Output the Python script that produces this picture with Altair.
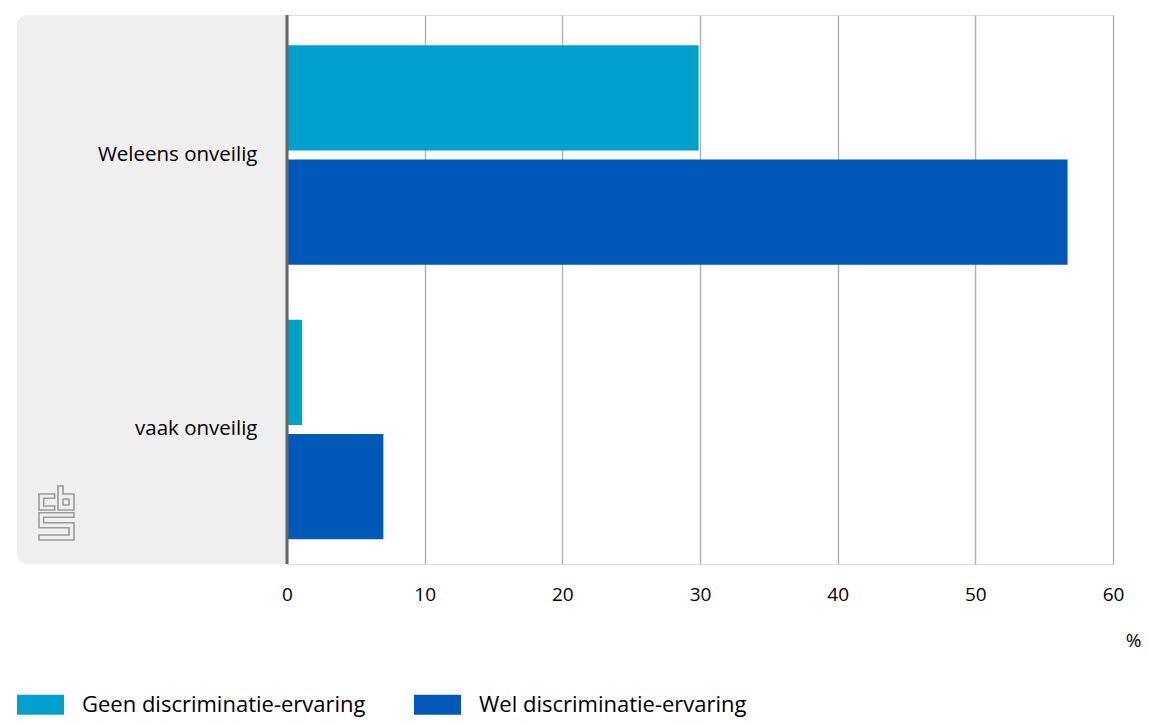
import altair as alt
import pandas as pd

# ---- data ----
categories = ["Weleens onveilig", "vaak onveilig"]
series = ["Geen discriminatie-ervaring", "Wel discriminatie-ervaring"]
geen = [29.9, 1.1]
wel = [56.7, 7.0]
x_ticks = [0, 10, 20, 30, 40, 50, 60]
colors = ["#00a1cd", "#0058b8"]

rows = []
for c, g, w in zip(categories, geen, wel):
    rows.append({"categorie": c, "groep": series[0], "waarde": g})
    rows.append({"categorie": c, "groep": series[1], "waarde": w})
df = pd.DataFrame(rows)

W, H = 826, 549
FONT = "Open Sans"

# ---- CBS logo outline (decoration), local pixel coords -> unit path ----
logo_parts = [
    [(15.7, 8), (0, 8), (0, 24), (15.7, 24), (15.7, 20), (4.7, 20), (4.7, 12.3), (15.7, 12.3)],
    [(19, 0), (24, 0), (24, 8), (35, 8), (35, 24), (19, 24)],
    [(24, 13), (30, 13), (30, 19), (24, 19)],
    [(0, 26.7), (35, 26.7), (35, 31.3), (4.7, 31.3), (4.7, 36.7), (35, 36.7), (35, 54),
     (0, 54), (0, 49), (30, 49), (30, 41.7), (0, 41.7)],
]
CX, CY, S = 17.5, 27.0, 27.0


def to_path(parts):
    out = []
    for pts in parts:
        seg = []
        for i, (px, py) in enumerate(pts):
            seg.append(("M" if i == 0 else "L") + f"{(px - CX) / S:.4f},{(py - CY) / S:.4f}")
        out.append("".join(seg) + "Z")
    return "".join(out)


LOGO = to_path(logo_parts)
LEGEND_SYMBOL = "M-1,-0.4255H1V0.4255H-1Z"

one = pd.DataFrame({"a": [0]})

panel = alt.Chart(one).mark_rect(
    color="#efefef", cornerRadiusTopLeft=10, cornerRadiusBottomLeft=10
).encode(x=alt.value(-270), x2=alt.value(0), y=alt.value(0), y2=alt.value(H))

logo = alt.Chart(one).mark_point(
    shape=LOGO, filled=False, stroke="#9a9a9a", strokeWidth=1.6, size=2916, opacity=1
).encode(x=alt.value(-230.5), y=alt.value(498))

bars = alt.Chart(df).mark_bar().encode(
    x=alt.X(
        "waarde:Q",
        scale=alt.Scale(domain=[0, 60], nice=False, zero=True),
        axis=alt.Axis(
            values=x_ticks, grid=True, ticks=False, domain=False, labelFlush=False,
            gridColor="#b4b4b4", gridWidth=1.5,
            labelPadding=21, labelFontSize=19, labelColor="#000000", labelFont=FONT,
            title="%", titleX=846, titleY=76, titleAlign="center", titleBaseline="middle",
            titleFontSize=19, titleFontWeight="normal", titleColor="#000000", titleFont=FONT,
        ),
    ),
    y=alt.Y(
        "categorie:N", sort=categories,
        scale=alt.Scale(paddingInner=0.2, paddingOuter=0.1, align=0.55),
        axis=alt.Axis(
            title=None, ticks=False, domain=False, labelPadding=30, zindex=2,
            labelFontSize=20.5, labelColor="#000000", labelFont=FONT, labelLimit=400,
        ),
    ),
    yOffset=alt.YOffset("groep:N", sort=series, scale=alt.Scale(paddingInner=0.08, paddingOuter=0)),
    color=alt.Color(
        "groep:N", sort=series,
        scale=alt.Scale(domain=series, range=colors),
        legend=alt.Legend(
            title=None, orient="none", legendX=-270, legendY=666, direction="horizontal",
            symbolType=LEGEND_SYMBOL, symbolSize=2209, symbolStrokeWidth=0, symbolOpacity=1,
            labelFontSize=22, labelFont=FONT, labelColor="#000000", labelOffset=18,
            columnPadding=48, labelLimit=600,
        ),
    ),
)

zero = alt.Chart(pd.DataFrame({"waarde": [0]})).mark_rule(
    color="#666666", strokeWidth=3
).encode(x="waarde:Q")

chart = alt.layer(panel, logo, bars, zero).properties(
    width=W, height=H,
    autosize=alt.AutoSizeParams(type="none"),
    padding={"left": 279, "top": 7, "right": 28, "bottom": 153},
).configure_view(stroke=None).configure(font=FONT)

chart.save("out.html", embed_options={"renderer": "svg", "actions": False})
